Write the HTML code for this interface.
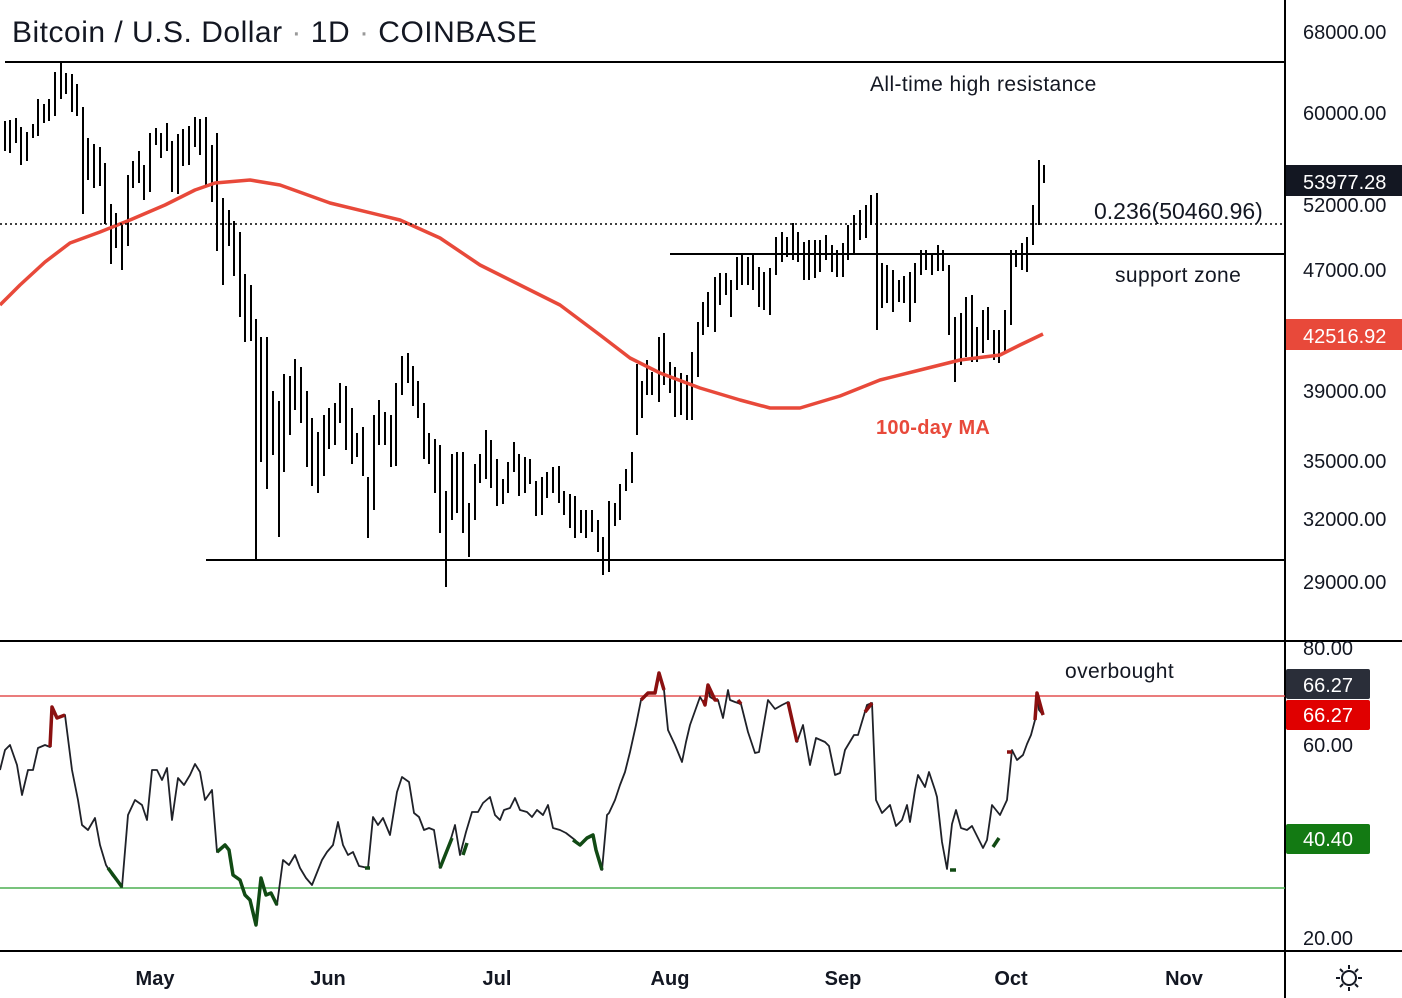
<!DOCTYPE html>
<html><head><meta charset="utf-8"><style>
html,body{margin:0;padding:0;background:#fff;}
svg{display:block;font-family:"Liberation Sans","DejaVu Sans",sans-serif;}
</style></head><body>
<svg width="1402" height="998" xmlns="http://www.w3.org/2000/svg">
<rect width="1402" height="998" fill="#fff"/>
<path fill="none" stroke="#000" stroke-width="2" d="M5,121V151M10,120V153M16,118V143M21,127V165M27,132V161M33,124V138M38,99V136M44,104V123M49,99V121M55,72V116M61,62V99M66,73V94M72,74V112M77,84V116M83,107V214M88,138V180M94,144V188M100,147V186M105,163V224M111,204V264M116,213V248M122,222V270M128,175V246M133,161V188M139,151V183M144,165V200M150,133V192M156,128V145M161,133V158M167,123V151M172,141V192M178,134V194M183,129V166M189,126V165M195,117V147M200,119V155M206,117V185M212,145V202M217,133V251M223,198V285M229,210V246M234,221V276M240,232V317M245,274V342M251,285V341M256,319V559M261,337V462M267,337V489M273,391V455M279,401V537M284,374V472M290,376V435M295,359V410M301,367V423M307,391V467M312,418V486M318,432V493M324,415V476M329,408V449M335,403V445M340,383V423M346,386V450M352,408V464M357,433V457M363,427V476M368,477V538M374,415V510M379,400V445M385,412V445M391,415V467M396,383V466M402,356V395M408,353V383M413,366V406M418,381V418M424,403V459M429,433V464M435,439V493M440,445V533M446,491V587M452,454V520M457,452V513M463,452V533M469,503V557M475,464V520M480,454V483M486,430V479M491,440V488M497,459V506M503,479V504M508,462V493M514,442V472M519,454V496M525,457V493M530,459V484M536,481V516M542,477V515M547,472V498M553,467V493M559,466V503M564,491V515M570,494V528M575,496V538M581,510V533M586,510V538M592,510V532M598,520V552M603,537V575M609,501V572M615,503V526M620,484V520M626,469V491M632,452V483M637,364V435M642,381V418M647,360V395M652,372V395M659,337V402M664,333V385M670,362V393M675,367V417M681,373V415M687,375V420M692,352V420M698,322V377M703,302V335M708,292V327M715,277V332M720,273V305M726,273V295M731,280V317M737,257V290M742,255V285M748,257V285M753,255V290M759,267V307M764,272V310M770,268V315M776,237V275M782,232V262M787,237V257M793,223V260M798,232V262M804,242V280M809,240V280M815,240V278M820,240V272M826,235V260M832,245V272M837,250V277M843,243V277M848,225V260M854,215V253M860,210V240M866,205V238M871,195V225M877,193V330M882,263V308M887,265V303M893,270V312M899,280V302M904,276V303M910,272V322M915,263V303M921,250V275M926,250V270M932,255V275M938,245V271M943,250V271M949,265V335M955,317V382M961,313V365M966,297V357M972,295V362M977,327V362M983,310V353M988,307V340M994,330V360M999,330V363M1005,310V352M1011,250V325M1016,250V267M1022,243V270M1027,237V272M1033,205V245M1039,160V225M1044,165V183"/>
<polyline fill="none" stroke="#e8493a" stroke-width="3.5" stroke-linejoin="round" points="0,305 20,285 45,262 70,243 100,232 130,220 165,205 195,190 215,183 250,180 280,185 330,203 400,220 440,238 480,265 520,285 560,305 600,335 630,358 660,373 700,388 740,400 770,408 800,408 840,396 880,380 920,370 960,360 1000,355 1020,345 1043,334"/>
<line x1="5" y1="62" x2="1285" y2="62" stroke="#000" stroke-width="2"/>
<line x1="0" y1="224" x2="1285" y2="224" stroke="#000" stroke-width="1.5" stroke-dasharray="2,3"/>
<line x1="670" y1="254" x2="1285" y2="254" stroke="#000" stroke-width="2"/>
<line x1="206" y1="560" x2="1285" y2="560" stroke="#000" stroke-width="2"/>
<line x1="0" y1="641" x2="1402" y2="641" stroke="#000" stroke-width="2"/>
<line x1="0" y1="951" x2="1402" y2="951" stroke="#000" stroke-width="2"/>
<line x1="1285" y1="0" x2="1285" y2="998" stroke="#000" stroke-width="2"/>
<line x1="0" y1="696" x2="1285" y2="696" stroke="#e35050" stroke-width="1.5"/>
<line x1="0" y1="888" x2="1285" y2="888" stroke="#4caf50" stroke-width="1.5"/>
<polyline fill="none" stroke="#1f2128" stroke-width="1.8" stroke-linejoin="round" points="0,770 5,750 10,745 17,765 22,795 28,770 33,770 38,748 45,745 50,747 52,707 57,718 65,715 72,770 78,800 82,825 88,830 95,818 100,845 106,865 112,875 122,887 128,815 135,800 142,805 147,820 152,770 157,770 162,780 167,768 172,820 178,778 184,785 190,775 195,764 200,772 205,800 212,790 217,852 225,845 229,850 233,875 240,880 245,895 250,900 256,925 261,878 266,895 271,893 277,905 283,860 289,865 295,855 300,868 306,878 312,885 316,875 322,860 327,852 333,845 338,822 343,845 348,855 353,852 359,866 368,868 373,817 378,825 383,818 390,835 397,792 402,777 409,782 414,813 419,817 424,830 429,828 434,830 440,868 446,853 450,842 455,825 460,855 466,832 472,812 478,812 483,803 490,797 495,815 500,820 504,810 510,808 515,798 520,810 527,812 532,817 537,810 543,815 548,805 553,828 560,830 566,833 575,840 580,845 587,838 593,835 596,850 602,870 607,815 609,813 615,800 620,785 625,772 630,752 636,725 641,700 648,693 655,693 659,673 664,690 668,730 675,745 682,762 686,742 690,725 700,697 705,705 708,685 710,697 715,700 718,700 723,718 728,690 730,700 735,702 741,704 748,732 755,753 759,752 768,700 775,709 782,705 788,702 797,742 803,725 810,765 816,738 825,742 829,746 835,775 840,773 845,750 851,740 854,735 858,735 867,705 872,703 876,800 882,813 887,808 890,805 896,826 902,820 907,805 910,822 915,790 918,775 925,787 929,772 935,790 937,797 942,842 947,869 952,824 956,810 961,828 967,830 972,826 978,838 983,848 987,840 992,805 996,810 1000,815 1007,800 1012,750 1017,760 1023,755 1027,744 1031,735 1035,720 1037,693 1039,710 1043,715"/>
<g fill="none" stroke="#8b1010" stroke-width="3.5" stroke-linejoin="round">
<polyline points="50,747 52,707 57,718 65,715"/>
<polyline points="641,700 648,693 655,693 659,673 664,690"/>
<polyline points="703,700 705,705 708,685 715,700 718,700"/>
<polyline points="738,700 741,704"/>
<polyline points="788,702 797,742"/>
<polyline points="865,712 872,703"/>
<polyline points="1035,720 1037,693 1043,715"/>
<polyline points="1007,752 1012,752"/>
</g>
<g fill="none" stroke="#114a14" stroke-width="3.5" stroke-linejoin="round">
<polyline points="108,868 122,887"/>
<polyline points="217,852 225,845 229,850 233,875 240,880 245,895 250,900 256,925 261,878 266,895 271,893 277,905"/>
<polyline points="365,868 370,868"/>
<polyline points="440,868 452,838"/>
<polyline points="463,855 467,843"/>
<polyline points="573,840 580,845 587,838 593,835 596,850 602,870"/>
<polyline points="950,870 956,870"/>
<polyline points="993,847 999,838"/>
</g>
<text x="12" y="42" font-size="30" fill="#131722" letter-spacing="0.5">Bitcoin / U.S. Dollar <tspan fill="#999">·</tspan> 1D <tspan fill="#999">·</tspan> COINBASE</text>
<g font-size="21" fill="#131722" letter-spacing="0.4">
<text x="870" y="91">All-time high resistance</text>
<text x="1094" y="219" font-size="23" letter-spacing="0">0.236(50460.96)</text>
<text x="1115" y="282">support zone</text>
<text x="1065" y="678">overbought</text>
</g>
<text x="876" y="434" font-size="20" font-weight="bold" fill="#e8493a" letter-spacing="0.3">100-day MA</text>
<g font-size="20" fill="#131722">
<text x="1303" y="39">68000.00</text>
<text x="1303" y="120">60000.00</text>
<text x="1303" y="212">52000.00</text>
<text x="1303" y="277">47000.00</text>
<text x="1303" y="398">39000.00</text>
<text x="1303" y="468">35000.00</text>
<text x="1303" y="526">32000.00</text>
<text x="1303" y="589">29000.00</text>
<text x="1303" y="655">80.00</text>
<text x="1303" y="752">60.00</text>
<text x="1303" y="945">20.00</text>
</g>
<rect x="1286" y="165" width="116" height="31" fill="#131722"/>
<text x="1303" y="189" font-size="20" fill="#fff">53977.28</text>
<rect x="1286" y="319" width="116" height="31" fill="#e8493a"/>
<text x="1303" y="343" font-size="20" fill="#fff">42516.92</text>
<rect x="1286" y="669" width="84" height="30" rx="2" fill="#2a2e39"/>
<text x="1303" y="692" font-size="20" fill="#fff">66.27</text>
<rect x="1286" y="700" width="84" height="30" rx="2" fill="#e00000"/>
<text x="1303" y="722" font-size="20" fill="#fff">66.27</text>
<rect x="1286" y="824" width="84" height="30" rx="2" fill="#137a13"/>
<text x="1303" y="846" font-size="20" fill="#fff">40.40</text>
<g font-size="20" font-weight="bold" fill="#131722" text-anchor="middle">
<text x="155" y="985">May</text><text x="328" y="985">Jun</text><text x="497" y="985">Jul</text>
<text x="670" y="985">Aug</text><text x="843" y="985">Sep</text><text x="1011" y="985">Oct</text><text x="1184" y="985">Nov</text>
</g>
<g stroke="#131722" stroke-width="2" fill="none">
<circle cx="1349" cy="978" r="7"/>
<path d="M1349 965v4M1349 987v4M1336 978h4M1358 978h4M1340 969l3 3M1355 984l3 3M1340 987l3-3M1355 972l3-3"/>
</g>
</svg>
</body></html>
